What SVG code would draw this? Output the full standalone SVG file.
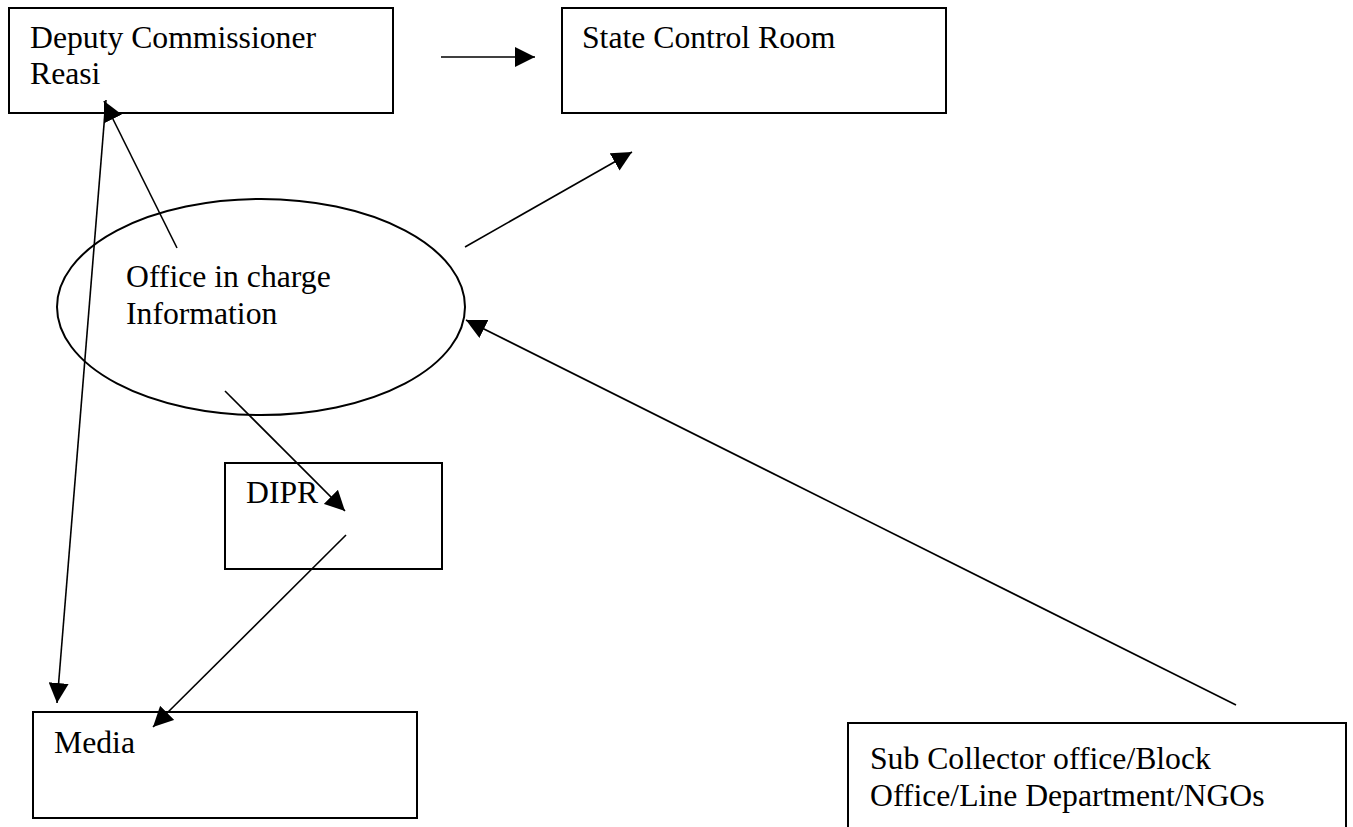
<svg xmlns="http://www.w3.org/2000/svg" width="1353" height="827" viewBox="0 0 1353 827">
<style>
.box{fill:#fff;stroke:#000;stroke-width:2}
.lbl{font-family:"Liberation Serif","Times New Roman",serif;font-size:31.7px;fill:#000}
.con line{stroke:#000;stroke-width:1.6;fill:none}
</style>
<defs>
<marker id="ah" viewBox="0 0 20 20" refX="20" refY="10" markerWidth="20" markerHeight="20" markerUnits="userSpaceOnUse" orient="auto">
<path d="M0,0 L20,10 L0,20 z" fill="#000"/>
</marker>
</defs>
<rect width="1353" height="827" fill="#fff"/>
<g id="dc">
<rect class="box" x="9" y="8" width="384" height="105"/>
<text class="lbl" x="30" y="48">Deputy Commissioner</text>
<text class="lbl" x="30" y="84">Reasi</text>
</g>
<g id="scr">
<rect class="box" x="562" y="8" width="384" height="105"/>
<text class="lbl" x="582" y="48">State Control Room</text>
</g>
<g id="office">
<ellipse cx="261" cy="307" rx="204" ry="108" fill="#fff" stroke="#000" stroke-width="2"/>
<text class="lbl" x="126" y="287">Office in charge</text>
<text class="lbl" x="126" y="324">Information</text>
</g>
<g id="dipr">
<rect class="box" x="225" y="463" width="217" height="106"/>
<text class="lbl" x="246" y="503">DIPR</text>
</g>
<g id="media">
<rect class="box" x="33" y="712" width="384" height="106"/>
<text class="lbl" x="54" y="753">Media</text>
</g>
<g id="sub">
<rect class="box" x="848" y="723" width="498" height="110"/>
<text class="lbl" x="870" y="769">Sub Collector office/Block</text>
<text class="lbl" x="870" y="806">Office/Line Department/NGOs</text>
</g>
<g id="connectors" class="con">
<line x1="441" y1="57" x2="535" y2="57" marker-end="url(#ah)"/>
<line x1="177" y1="248" x2="104" y2="101" marker-end="url(#ah)"/>
<line x1="106" y1="100" x2="57" y2="703" marker-end="url(#ah)"/>
<line x1="465" y1="247" x2="632" y2="152" marker-end="url(#ah)"/>
<line x1="225" y1="391" x2="345" y2="511" marker-end="url(#ah)"/>
<line x1="346" y1="535" x2="153" y2="727" marker-end="url(#ah)"/>
<line x1="1236" y1="705" x2="466" y2="320" marker-end="url(#ah)"/>
</g>
</svg>
